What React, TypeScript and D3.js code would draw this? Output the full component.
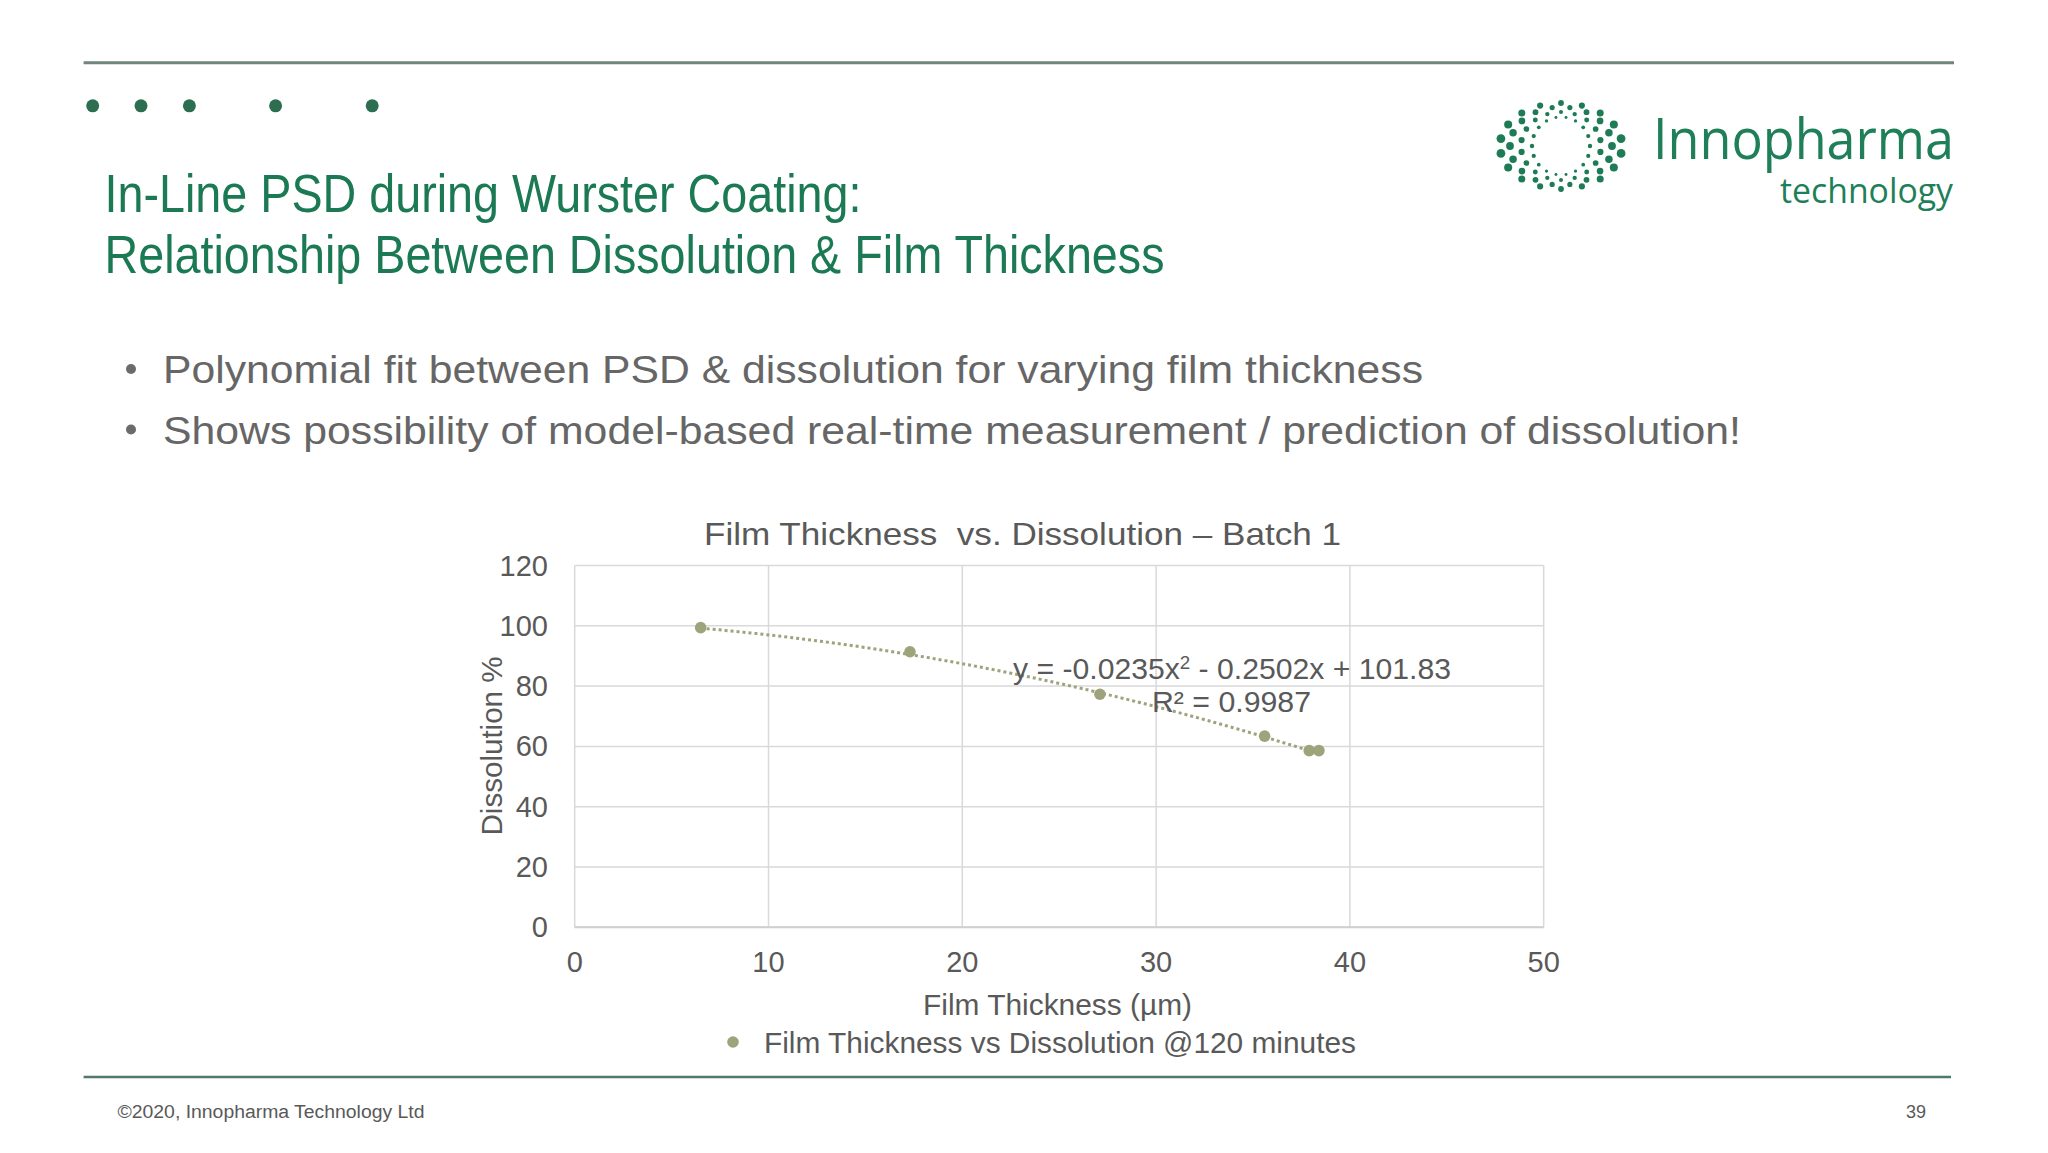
import React from "react";
import * as d3 from "d3";

// ---- Data ----
const filmThickness = [6.5, 17.3, 27.1, 35.6, 37.9, 38.4];
const dissolution = [99.4, 91.4, 77.3, 63.4, 58.6, 58.6];
const fitCoefficients = [-0.0235, -0.2502, 101.83]; // a x^2 + b x + c (shown trendline)
const xTicks = [0, 10, 20, 30, 40, 50];
const yTicks = [0, 20, 40, 60, 80, 100, 120];
const bullets = [
  "Polynomial fit between PSD & dissolution for varying film thickness",
  "Shows possibility of model-based real-time measurement / prediction of dissolution!",
];
const topDotsX = [92.7, 141, 189.4, 275.6, 372.2];

const W = 2048;
const H = 1153;
const plot = { left: 574.7, right: 1543.7, top: 565.5, bottom: 927.3 };

const GREEN = "#1b7a53";
const GRAY_TEXT = "#595959";
const MARKER = "#9fa37c";
const FONT = "'Liberation Sans', Arial, sans-serif";

function LogoRing({ cx, cy }: { cx: number; cy: number }) {
  const rings = [
    { rx: 29, ry: 29, n: 18, r: 1.7, off: 0 },
    { rx: 40, ry: 34, n: 18, r: 2.4, off: 0.5 },
    { rx: 51, ry: 39, n: 18, r: 3.0, off: 0 },
    { rx: 61, ry: 43, n: 18, r: 3.4, off: 0.5 },
  ];
  const dots: JSX.Element[] = [];
  rings.forEach((ring, ri) => {
    for (let i = 0; i < ring.n; i++) {
      const a = ((i + ring.off) / ring.n) * Math.PI * 2;
      const side = Math.abs(Math.cos(a));
      dots.push(
        <circle
          key={`${ri}-${i}`}
          cx={cx + ring.rx * Math.cos(a)}
          cy={cy + ring.ry * Math.sin(a)}
          r={ring.r * (0.85 + 0.45 * side * side)}
          fill="#1d7b55"
        />
      );
    }
  });
  return <g>{dots}</g>;
}

export default function App() {
  const x = d3.scaleLinear().domain([0, 50]).range([plot.left, plot.right]);
  const y = d3.scaleLinear().domain([0, 120]).range([plot.bottom, plot.top]);
  const [a, b, c] = fitCoefficients;
  const xMin = d3.min(filmThickness)!;
  const xMax = d3.max(filmThickness)!;
  const fitPts = d3.range(0, 101).map((i) => {
    const xv = xMin + ((xMax - xMin) * i) / 100;
    return [xv, a * xv * xv + b * xv + c] as [number, number];
  });
  const line = d3
    .line<[number, number]>()
    .x((d) => x(d[0]))
    .y((d) => y(d[1]));

  return (
    <div style={{ position: "fixed", left: 0, top: 0, width: W, height: H, background: "#fff" }}>
      <svg width={W} height={H} viewBox={`0 0 ${W} ${H}`} style={{ display: "block" }}>
        <rect x={0} y={0} width={W} height={H} fill="#ffffff" />
        {/* top rule */}
        <line x1={83.6} x2={1954} y1={62.7} y2={62.7} stroke="#71857a" strokeWidth={3} />
        {topDotsX.map((dx, i) => (
          <circle key={i} cx={dx} cy={105.8} r={6.5} fill="#2e6e50" />
        ))}

        {/* title */}
        <text x={104.5} y={212} fontFamily={FONT} fontSize={54} fill={GREEN} textLength={757} lengthAdjust="spacingAndGlyphs">
          In-Line PSD during Wurster Coating:
        </text>
        <text x={104.5} y={273} fontFamily={FONT} fontSize={54} fill={GREEN} textLength={1060} lengthAdjust="spacingAndGlyphs">
          Relationship Between Dissolution &amp; Film Thickness
        </text>

        {/* logo */}
        <LogoRing cx={1561} cy={146} />
        <text x={1653} y={159} fontFamily="'Open Sans', sans-serif" fontWeight={400} fontSize={57} fill="#1f7f58" textLength={301} lengthAdjust="spacingAndGlyphs">
          Innopharma
        </text>
        <text x={1780} y={203} fontFamily="'Open Sans', sans-serif" fontWeight={400} fontSize={35} fill="#1f7f58" textLength={173} lengthAdjust="spacingAndGlyphs">
          technology
        </text>

        {/* bullets */}
        {bullets.map((t, i) => (
          <g key={i}>
            <circle cx={131} cy={369 + i * 60.5} r={5} fill="#6b6b6b" />
            <text x={163} y={383 + i * 60.5} fontFamily={FONT} fontSize={39} fill="#666666" textLength={i === 0 ? 1260 : 1578} lengthAdjust="spacingAndGlyphs">
              {t}
            </text>
          </g>
        ))}

        {/* chart title */}
        <text x={1022.5} y={545} textAnchor="middle" fontFamily={FONT} fontSize={32} fill={GRAY_TEXT} textLength={637} lengthAdjust="spacingAndGlyphs" style={{ whiteSpace: "pre" }}>
          {"Film Thickness  vs. Dissolution – Batch 1"}
        </text>

        {/* gridlines */}
        {yTicks.map((t) => (
          <line key={`gy${t}`} x1={plot.left} x2={plot.right} y1={y(t)} y2={y(t)} stroke="#d9d9d9" strokeWidth={1.5} />
        ))}
        {xTicks.map((t) => (
          <line key={`gx${t}`} x1={x(t)} x2={x(t)} y1={plot.top} y2={plot.bottom} stroke="#d9d9d9" strokeWidth={1.5} />
        ))}
        <line x1={plot.left} x2={plot.right} y1={y(0)} y2={y(0)} stroke="#cfcfcf" strokeWidth={2} />

        {/* y tick labels */}
        {yTicks.map((t) => (
          <text key={`ty${t}`} x={548} y={y(t) + 10} textAnchor="end" fontFamily={FONT} fontSize={29} fill={GRAY_TEXT}>
            {t}
          </text>
        ))}
        {/* x tick labels */}
        {xTicks.map((t) => (
          <text key={`tx${t}`} x={x(t)} y={972} textAnchor="middle" fontFamily={FONT} fontSize={29} fill={GRAY_TEXT}>
            {t}
          </text>
        ))}

        {/* axis titles */}
        <text x={1057.5} y={1015} textAnchor="middle" fontFamily={FONT} fontSize={29} fill={GRAY_TEXT} textLength={269} lengthAdjust="spacingAndGlyphs">
          Film Thickness (µm)
        </text>
        <text transform="translate(502,746) rotate(-90)" textAnchor="middle" fontFamily={FONT} fontSize={29} fill={GRAY_TEXT} textLength={179} lengthAdjust="spacingAndGlyphs">
          Dissolution %
        </text>

        {/* trendline */}
        <path d={line(fitPts) ?? ""} fill="none" stroke={MARKER} strokeWidth={3} strokeDasharray="3 3" />

        {/* points */}
        {filmThickness.map((fx, i) => (
          <circle key={`p${i}`} cx={x(fx)} cy={y(dissolution[i])} r={5.8} fill={MARKER} />
        ))}

        {/* equation */}
        <text x={1013} y={679} fontFamily={FONT} fontSize={29} fill={GRAY_TEXT} textLength={438} lengthAdjust="spacingAndGlyphs">
          y = -0.0235x<tspan dy={-10} fontSize={18}>2</tspan><tspan dy={10}> - 0.2502x + 101.83</tspan>
        </text>
        <text x={1152} y={712} fontFamily={FONT} fontSize={29} fill={GRAY_TEXT} textLength={159} lengthAdjust="spacingAndGlyphs">
          R² = 0.9987
        </text>

        {/* legend */}
        <circle cx={733} cy={1042} r={5.8} fill={MARKER} />
        <text x={764} y={1053} fontFamily={FONT} fontSize={29} fill={GRAY_TEXT} textLength={592} lengthAdjust="spacingAndGlyphs">
          Film Thickness vs Dissolution @120 minutes
        </text>

        {/* bottom rule */}
        <line x1={83.6} x2={1951} y1={1077} y2={1077} stroke="#4f7a68" strokeWidth={2.5} />

        {/* footer */}
        <text x={117.5} y={1118} fontFamily={FONT} fontSize={18} fill={GRAY_TEXT} textLength={307} lengthAdjust="spacingAndGlyphs">
          ©2020, Innopharma Technology Ltd
        </text>
        <text x={1926} y={1118} textAnchor="end" fontFamily={FONT} fontSize={18} fill={GRAY_TEXT}>
          39
        </text>
      </svg>
    </div>
  );
}
